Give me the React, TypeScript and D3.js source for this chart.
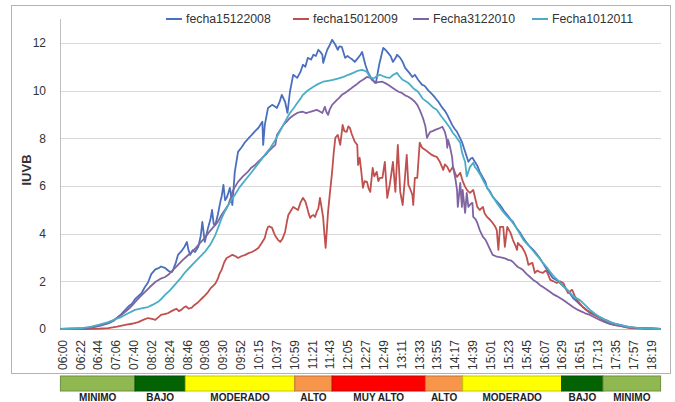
import React from "react";
import * as d3 from "d3";

// x axis: one category per reading, a label every 22 categories
const horas = [
  "06:00", "06:22", "06:44", "07:06", "07:40", "08:02", "08:24", "08:46", "09:08",
  "09:30", "09:52", "10:15", "10:37", "10:59", "11:21", "11:43", "12:05", "12:27",
  "12:49", "13:11", "13:33", "13:55", "14:17", "14:39", "15:01", "15:23", "15:45",
  "16:07", "16:29", "16:51", "17:13", "17:35", "17:57", "18:19",
];
const pasoEtiqueta = 22;
const nCategorias = 741;
const yTicks = [0, 2, 4, 6, 8, 10, 12];

// [category index, IUVB]
const fecha15122008: [number, number][] = [
  [0, 0], [25, 0.02], [37, 0.06], [50, 0.15], [60, 0.25], [66, 0.35], [71, 0.5], [75, 0.62], [80, 0.8],
  [84, 0.95], [88, 1.05], [92, 1.25], [96, 1.38], [100, 1.5], [104, 1.75], [108, 1.95], [112, 2.3],
  [117, 2.5], [121, 2.55], [124, 2.62], [129, 2.56], [134, 2.42], [138, 2.4], [142, 2.75], [145, 3.11],
  [150, 3.3], [153, 3.45], [156, 3.65], [158, 3.3], [160, 3.11], [163, 3.3], [166, 3.23], [170, 3.45],
  [173, 3.9], [175, 4.49], [178, 3.65], [182, 4.24], [185, 4.6], [187, 4.99], [189, 4.4], [191, 4.36],
  [194, 4.78], [197, 5.3], [199, 5.6], [201, 6.04], [203, 5.4], [205, 5.5], [207, 5.7], [209, 5.92],
  [212, 5.2], [215, 6.59], [219, 7.43], [223, 7.6], [228, 7.85], [232, 8.0], [236, 8.14], [240, 8.3],
  [244, 8.43], [249, 8.69], [250, 7.72], [252, 8.56], [256, 9.27], [261, 9.4], [265, 9.32], [267, 9.27],
  [270, 9.5], [273, 9.82], [277, 9.53], [280, 9.06], [283, 9.95], [287, 10.66], [292, 10.53],
  [296, 10.78], [299, 11.08], [302, 11.0], [305, 11.37], [309, 11.3], [312, 11.5], [315, 11.45],
  [318, 11.71], [321, 11.6], [323, 11.5], [324, 11.16], [327, 11.5], [329, 11.71], [332, 11.9],
  [335, 12.13], [339, 11.92], [342, 11.71], [344, 11.85], [347, 11.83], [351, 11.37], [354, 11.45],
  [357, 11.37], [360, 11.3], [363, 11.2], [367, 11.37], [370, 11.5], [372, 11.62], [376, 11.08],
  [379, 10.78], [382, 10.6], [384, 10.45], [389, 10.32], [393, 11.08], [398, 11.79], [401, 11.7],
  [404, 11.58], [407, 11.45], [410, 11.2], [413, 11.35], [415, 11.5], [419, 11.37], [422, 11.2],
  [425, 10.95], [430, 10.75], [434, 10.57], [437, 10.66], [441, 10.45], [446, 10.24], [449, 10.2],
  [453, 10.03], [459, 9.82], [462, 9.7], [466, 9.53], [471, 9.27], [474, 9.15], [477, 8.98], [483, 8.56],
  [486, 8.4], [489, 8.27], [495, 7.85], [499, 7.43], [503, 7.01], [506, 7.15], [508, 7.18], [511, 7.01],
  [514, 6.85], [517, 6.59], [521, 6.35], [524, 6.17], [526, 5.92], [530, 5.75], [533, 5.54], [538, 5.35],
  [542, 5.2], [547, 4.95], [551, 4.78], [555, 4.6], [558, 4.49], [563, 4.2], [567, 4.03], [571, 3.8],
  [575, 3.61], [579, 3.45], [583, 3.32], [587, 3.15], [591, 2.98], [596, 2.7], [600, 2.48], [604, 2.3],
  [607, 2.14], [612, 2.05], [616, 1.93], [620, 1.8], [625, 1.64], [628, 1.5], [632, 1.3], [637, 1.15],
  [641, 1.01], [647, 0.85], [653, 0.67], [659, 0.58], [665, 0.5], [672, 0.38], [678, 0.29], [684, 0.22],
  [690, 0.17], [696, 0.12], [702, 0.08], [709, 0.05], [715, 0.04], [728, 0.02], [740, 0],
];

const fecha15012009: [number, number][] = [
  [0, 0], [30, 0], [50, 0.02], [59, 0.04], [70, 0.1], [80, 0.17], [88, 0.22], [96, 0.29], [102, 0.38],
  [108, 0.46], [113, 0.42], [117, 0.38], [121, 0.5], [124, 0.59], [128, 0.62], [133, 0.67], [137, 0.75],
  [140, 0.8], [143, 0.85], [146, 0.75], [149, 0.8], [152, 0.9], [155, 0.95], [158, 0.85], [162, 0.9],
  [165, 1.0], [169, 1.1], [172, 1.2], [175, 1.3], [178, 1.4], [182, 1.55], [185, 1.7], [188, 1.8],
  [191, 1.9], [194, 2.1], [196, 2.3], [199, 2.5], [202, 2.8], [205, 2.98], [209, 3.05], [212, 3.11],
  [216, 3.05], [219, 2.98], [223, 3.05], [228, 3.11], [232, 3.18], [236, 3.23], [240, 3.3], [244, 3.4],
  [248, 3.6], [252, 3.82], [254, 4.1], [256, 4.28], [258, 4.3], [261, 4.24], [263, 4.05], [265, 3.9],
  [268, 3.75], [271, 3.65], [274, 3.8], [277, 4.07], [279, 4.45], [281, 4.78], [284, 4.95], [287, 5.12],
  [290, 5.05], [293, 4.99], [296, 5.3], [299, 5.5], [302, 5.35], [304, 5.12], [306, 4.85], [308, 4.66],
  [310, 4.75], [312, 4.78], [314, 4.7], [316, 4.91], [318, 5.05], [320, 5.5], [322, 5.1], [324, 4.66],
  [325, 4.2], [327, 3.4], [328, 3.9], [330, 4.91], [332, 5.6], [335, 6.59], [337, 7.4], [339, 8.02],
  [342, 8.14], [345, 7.72], [348, 8.56], [350, 8.3], [353, 8.27], [355, 8.5], [357, 8.43], [359, 8.2],
  [361, 8.02], [363, 7.85], [366, 7.72], [367, 6.88], [369, 7.18], [371, 6.6], [373, 5.92], [375, 6.2],
  [378, 6.17], [380, 5.9], [382, 5.75], [385, 6.76], [387, 6.4], [390, 6.59], [392, 6.2], [394, 6.34],
  [397, 6.34], [400, 7.01], [403, 5.5], [406, 6.04], [408, 6.5], [410, 7.01], [413, 5.75], [416, 7.72],
  [419, 5.75], [422, 5.2], [424, 6.0], [427, 7.3], [429, 6.04], [431, 5.9], [434, 5.62], [435, 5.2],
  [437, 6.34], [440, 6.34], [443, 7.81], [446, 7.6], [450, 7.51], [454, 7.4], [458, 7.3], [461, 7.25],
  [464, 7.22], [468, 7.0], [472, 6.67], [474, 6.9], [477, 6.8], [480, 6.59], [484, 6.8], [487, 6.5],
  [489, 6.38], [493, 6.55], [496, 6.2], [499, 5.96], [502, 5.8], [505, 5.71], [509, 5.83], [512, 5.4],
  [514, 5.12], [517, 4.99], [521, 5.12], [523, 4.85], [526, 4.7], [530, 4.57], [533, 4.45], [536, 4.3],
  [538, 4.15], [540, 3.32], [542, 4.28], [546, 4.28], [548, 3.44], [551, 4.28], [555, 4.03], [558, 3.73],
  [561, 3.5], [563, 3.32], [564, 3.61], [567, 3.5], [569, 3.44], [573, 3.19], [575, 3.0], [577, 2.69],
  [580, 2.75], [582, 2.77], [585, 2.35], [588, 2.45], [591, 2.39], [595, 2.35], [598, 2.45], [600, 2.39],
  [604, 2.06], [608, 2.0], [612, 1.93], [616, 2.0], [620, 1.93], [623, 1.7], [626, 1.51], [629, 1.6],
  [631, 1.64], [634, 1.4], [637, 1.22], [641, 1.05], [644, 0.92], [648, 0.8], [653, 0.71], [659, 0.58],
  [665, 0.46], [672, 0.32], [678, 0.22], [684, 0.16], [690, 0.13], [696, 0.08], [702, 0.04], [715, 0.02],
  [740, 0],
];

const fecha3122010: [number, number][] = [
  [0, 0], [25, 0.02], [37, 0.06], [50, 0.15], [60, 0.28], [66, 0.38], [71, 0.5], [75, 0.59], [80, 0.72],
  [86, 0.9], [92, 1.13], [98, 1.35], [104, 1.55], [110, 1.75], [117, 1.97], [123, 2.1], [129, 2.18],
  [133, 2.27], [139, 2.48], [145, 2.69], [151, 2.9], [156, 3.05], [162, 3.23], [167, 3.4], [172, 3.6],
  [178, 3.82], [183, 4.05], [188, 4.25], [194, 4.49], [199, 4.8], [203, 5.0], [207, 5.2], [210, 5.5],
  [212, 5.75], [215, 5.95], [219, 6.17], [225, 6.4], [231, 6.59], [235, 6.75], [240, 6.88], [245, 7.05],
  [249, 7.18], [253, 7.3], [256, 7.43], [261, 7.6], [265, 7.72], [267, 8.14], [271, 8.35], [275, 8.56],
  [279, 8.7], [283, 8.85], [287, 8.95], [292, 9.06], [296, 9.1], [299, 9.11], [303, 9.05], [308, 9.11],
  [312, 9.15], [316, 9.19], [320, 9.12], [323, 9.06], [326, 9.32], [328, 9.1], [330, 8.98], [332, 9.2],
  [335, 9.4], [338, 9.5], [341, 9.61], [344, 9.7], [347, 9.82], [350, 9.88], [353, 9.95], [357, 10.05],
  [361, 10.16], [365, 10.25], [369, 10.37], [373, 10.45], [378, 10.57], [382, 10.53], [385, 10.45],
  [388, 10.32], [392, 10.35], [397, 10.37], [401, 10.3], [404, 10.24], [408, 10.15], [413, 10.03],
  [417, 9.95], [421, 9.9], [425, 9.8], [429, 9.74], [433, 9.65], [437, 9.53], [440, 9.4], [443, 9.19],
  [447, 8.85], [450, 8.5], [452, 8.02], [454, 8.15], [456, 8.27], [459, 8.3], [462, 8.35], [466, 8.4],
  [471, 8.48], [474, 8.27], [476, 8.0], [477, 7.6], [478, 7.93], [480, 7.7], [483, 7.2], [484, 6.8],
  [487, 6.3], [489, 5.83], [490, 5.12], [493, 6.13], [495, 5.12], [496, 5.83], [499, 4.87], [501, 5.71],
  [503, 5.12], [506, 5.25], [508, 5.29], [509, 4.7], [512, 4.6], [514, 4.45], [517, 4.15], [521, 3.86],
  [524, 3.75], [526, 3.61], [530, 3.32], [533, 3.11], [537, 3.05], [540, 3.02], [543, 3.0], [546, 2.98],
  [549, 2.95], [552, 2.9], [555, 2.88], [558, 2.81], [561, 2.7], [564, 2.6], [567, 2.55], [570, 2.48],
  [575, 2.3], [579, 2.18], [583, 2.06], [587, 1.97], [591, 1.85], [595, 1.76], [600, 1.65], [604, 1.55],
  [608, 1.45], [612, 1.38], [616, 1.3], [620, 1.22], [626, 1.07], [632, 0.92], [638, 0.8], [644, 0.71],
  [648, 0.64], [653, 0.59], [659, 0.48], [665, 0.38], [672, 0.28], [678, 0.2], [684, 0.16], [690, 0.13],
  [702, 0.07], [715, 0.04], [728, 0.02], [740, 0],
];

const fecha1012011: [number, number][] = [
  [0, 0], [25, 0.03], [38, 0.1], [48, 0.18], [59, 0.29], [67, 0.4], [75, 0.5], [83, 0.65], [92, 0.8],
  [100, 0.86], [108, 0.92], [114, 1.02], [120, 1.13], [125, 1.28], [129, 1.43], [135, 1.62], [141, 1.85],
  [148, 2.12], [154, 2.39], [160, 2.6], [166, 2.81], [172, 3.02], [178, 3.23], [185, 3.55], [191, 3.94],
  [195, 4.3], [199, 4.66], [203, 4.95], [207, 5.2], [211, 5.42], [215, 5.62], [221, 5.95], [228, 6.25],
  [234, 6.5], [240, 6.76], [246, 7.03], [252, 7.3], [259, 7.6], [265, 7.93], [270, 8.25], [275, 8.56],
  [279, 8.82], [283, 9.06], [288, 9.28], [292, 9.48], [296, 9.66], [299, 9.82], [305, 10.0], [312, 10.16],
  [318, 10.28], [324, 10.37], [330, 10.41], [336, 10.45], [342, 10.5], [349, 10.57], [355, 10.66],
  [361, 10.74], [366, 10.82], [372, 10.87], [378, 10.78], [382, 10.55], [386, 10.5], [390, 10.6],
  [394, 10.66], [398, 10.6], [402, 10.55], [406, 10.53], [410, 10.65], [415, 10.74], [418, 10.6],
  [422, 10.45], [426, 10.38], [429, 10.32], [435, 10.1], [441, 9.95], [447, 9.65], [453, 9.5], [459, 9.3],
  [464, 9.19], [470, 8.9], [476, 8.64], [480, 8.45], [484, 8.22], [487, 8.1], [490, 7.95], [493, 7.81],
  [495, 7.43], [497, 7.2], [499, 7.0], [501, 6.4], [503, 6.6], [505, 6.8], [509, 6.97], [511, 6.8],
  [514, 6.67], [518, 6.45], [521, 6.25], [525, 6.0], [530, 5.71], [534, 5.5], [538, 5.29], [542, 5.1],
  [546, 4.91], [550, 4.75], [555, 4.57], [560, 4.35], [564, 4.15], [568, 3.9], [571, 3.73], [575, 3.58],
  [579, 3.44], [583, 3.27], [587, 3.11], [591, 2.95], [595, 2.77], [600, 2.58], [604, 2.39], [610, 2.15],
  [616, 1.95], [620, 1.8], [625, 1.64], [629, 1.5], [632, 1.38], [636, 1.3], [641, 1.2], [647, 1.0],
  [653, 0.8], [659, 0.64], [665, 0.5], [672, 0.38], [678, 0.29], [684, 0.22], [690, 0.17], [696, 0.12],
  [702, 0.08], [709, 0.06], [715, 0.04], [728, 0.02], [740, 0],
];

const series = [
  { nombre: "fecha15122008", datos: fecha15122008, color: "#4a6fbd" },
  { nombre: "fecha15012009", datos: fecha15012009, color: "#c0504d" },
  { nombre: "Fecha3122010", datos: fecha3122010, color: "#8064a2" },
  { nombre: "Fecha1012011", datos: fecha1012011, color: "#4bacc6" },
];

// UV level band under the axis (category index ranges)
const nivelNombre = ["MINIMO", "BAJO", "MODERADO", "ALTO", "MUY ALTO", "ALTO", "MODERADO", "BAJO", "MINIMO"];
const nivelInicio = [0, 92, 154, 289, 335, 450, 496, 618, 669];
const nivelFin = [92, 154, 289, 335, 450, 496, 618, 669, 740];
const colorNivel: Record<string, string> = {
  MINIMO: "#8fb851",
  BAJO: "#036303",
  MODERADO: "#ffff00",
  ALTO: "#f7954a",
  "MUY ALTO": "#ff0000",
};

// legend positions (x of line start)
const legendX = [166, 293, 413, 532];

export default function App() {
  const W = 675;
  const H = 402;
  const left = 60;
  const right = 661;
  const top = 19;
  const bottom = 329;

  const x = d3.scaleLinear().domain([-0.5, nCategorias - 0.5]).range([left, right]);
  const y = d3.scaleLinear().domain([0, 13]).range([bottom, top]);

  const line = d3
    .line<[number, number]>()
    .x((d) => x(d[0]))
    .y((d) => y(d[1]));

  const font = "'Liberation Sans', Arial, sans-serif";

  return (
    <div style={{ position: "fixed", left: 0, top: 0 }}>
      <svg width={W} height={H} style={{ display: "block", background: "#fff" }} fontFamily={font}>
        <rect x={11.5} y={5.5} width={659} height={368} fill="#fff" stroke="#b3b3b3" />

        {/* grid */}
        {yTicks.map((t) => (
          <line key={"g" + t} x1={left} x2={right} y1={Math.round(y(t)) + 0.5} y2={Math.round(y(t)) + 0.5}
            stroke={t === 0 ? "#bfbfbf" : "#d9d9d9"} />
        ))}
        <line x1={left + 0.5} x2={left + 0.5} y1={top} y2={bottom + 0.5} stroke="#bfbfbf" />

        {yTicks.map((t) => (
          <text key={"t" + t} x={46} y={y(t)} dy="0.36em" textAnchor="end" fontSize={12} fill="#333">
            {t}
          </text>
        ))}
        <text transform={`translate(26,170) rotate(-90)`} textAnchor="middle" dy="0.36em"
          fontSize={13} fontWeight="bold" fill="#333">
          IUVB
        </text>

        {horas.map((h, i) => (
          <text key={h} transform={`translate(${x(i * pasoEtiqueta) + 2},340) rotate(-90)`}
            textAnchor="end" dy="0.36em" fontSize={12} fill="#333">
            {h}
          </text>
        ))}

        {series.map((s) => (
          <path key={s.nombre} d={line(s.datos) || ""} fill="none" stroke={s.color}
            strokeWidth={1.8} strokeLinejoin="round" />
        ))}

        {series.map((s, i) => (
          <g key={"l" + s.nombre} transform={`translate(${legendX[i]},19)`}>
            <line x1={0} x2={16} y1={0} y2={0} stroke={s.color} strokeWidth={2} />
            <text x={20} dy="0.36em" fontSize={12.3} fill="#333">{s.nombre}</text>
          </g>
        ))}

        {nivelNombre.map((n, i) => {
          const x0 = x(nivelInicio[i]);
          const x1 = x(nivelFin[i]);
          const c = colorNivel[n];
          return (
            <g key={"n" + i}>
              <rect x={x0} y={376} width={x1 - x0} height={15} fill={c}
                stroke={d3.color(c)!.darker(0.7).toString()} strokeWidth={1} />
              <text x={(x0 + x1) / 2} y={401} textAnchor="middle" fontSize={10} fontWeight="bold" fill="#222">
                {n}
              </text>
            </g>
          );
        })}
      </svg>
    </div>
  );
}
